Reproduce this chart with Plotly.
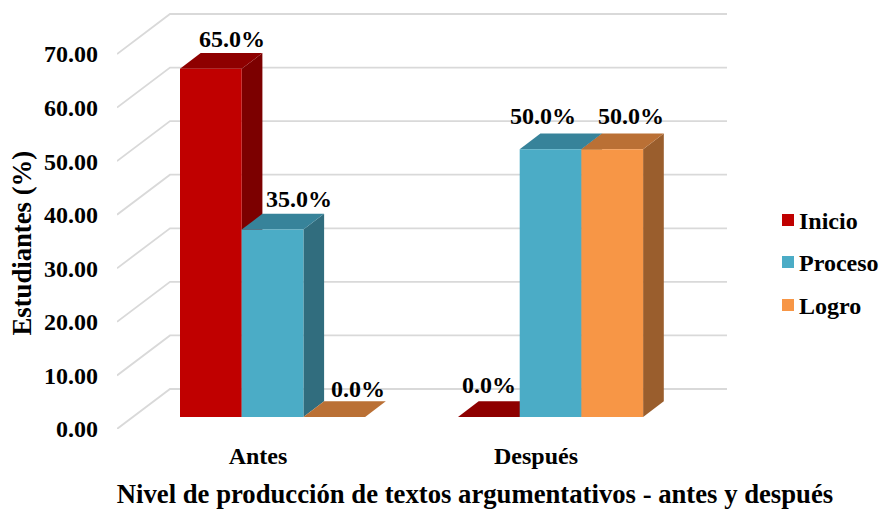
import plotly.graph_objects as go

categories = ["Antes", "Después"]
series_names = ["Inicio", "Proceso", "Logro"]
inicio = [65.0, 0.0]
proceso = [35.0, 50.0]
logro = [0.0, 50.0]
series_values = [inicio, proceso, logro]
y_ticks = [0, 10, 20, 30, 40, 50, 60, 70]

front_colors = ["#C00000", "#4BACC6", "#F79646"]
top_colors = ["#8E0000", "#37839A", "#BA7035"]
side_colors = ["#7C0000", "#316D7E", "#9A5E2D"]

FONT = "Liberation Serif"
PX_X = 278.0          # pixels per x unit
PX_Y = 5.357          # pixels per y unit
W, H = 880, 509
L, R, T, B = 117, 47, 10, 80   # plot area runs on under the legend so the x title centres at 475
CAT0_PX = 258
x_range = [-(CAT0_PX - L) / PX_X, (W - R - CAT0_PX) / PX_X]
y_range = [0, (H - T - B) / PX_Y]


def px_x(px):
    return (px - CAT0_PX) / PX_X


def px_y(py):
    return (H - B - py) / PX_Y


def paper_x(px):
    return (px - L) / (W - L - R)


def paper_y(py):
    return (H - B - py) / (H - T - B)


WALL_DX, WALL_DY = 53 / PX_X, 40 / PX_Y
WALL_END = px_x(727)
BAR_BASE = 12 / PX_Y
BAR_DX, BAR_DY = 20.7 / PX_X, 15.7 / PX_Y
BAR_W = 61.7 / PX_X
OFFSETS = [(180 - 258) / PX_X, (241.7 - 258) / PX_X, (303.4 - 258) / PX_X]
x_pos = list(range(len(categories)))

# per-label pixel nudges (dx, dy) from the centre of the bar's top-back edge
label_nudge = {
    (0, 0): (0, 14), (1, 0): (6, 15), (2, 0): (3, 12),
    (0, 1): (-21, 16), (1, 1): (-28, 17), (2, 1): (-2, 17),
}
legend_py = [220, 262, 305]

fig = go.Figure()

# wall gridlines
gx, gy = [], []
for t in y_ticks:
    gx += [x_range[0], x_range[0] + WALL_DX, WALL_END, None]
    gy += [t, t + WALL_DY, t + WALL_DY, None]
fig.add_trace(go.Scatter(x=gx, y=gy, mode="lines", line=dict(color="#D9D9D9", width=1.8),
                         showlegend=False, hoverinfo="skip", cliponaxis=False))

# top and side faces
for s, vals in enumerate(series_values):
    for c, v in zip(x_pos, vals):
        x0 = c + OFFSETS[s]
        x1 = x0 + BAR_W
        y0 = BAR_BASE
        y1 = BAR_BASE + v
        if v > 0:
            fig.add_trace(go.Scatter(
                x=[x1, x1 + BAR_DX, x1 + BAR_DX, x1, x1],
                y=[y0, y0 + BAR_DY, y1 + BAR_DY, y1, y0],
                mode="lines", fill="toself", fillcolor=side_colors[s],
                line=dict(width=0), showlegend=False, hoverinfo="skip"))
        fig.add_trace(go.Scatter(
            x=[x0, x1, x1 + BAR_DX, x0 + BAR_DX, x0],
            y=[y1, y1, y1 + BAR_DY, y1 + BAR_DY, y1],
            mode="lines", fill="toself", fillcolor=top_colors[s],
            line=dict(width=0), showlegend=False, hoverinfo="skip"))

# legend keys and names
for s, name in enumerate(series_names):
    fig.add_trace(go.Scatter(
        x=[px_x(788)], y=[px_y(legend_py[s])], mode="markers", name=name,
        marker=dict(symbol="square", size=12, color=front_colors[s], line=dict(width=0)),
        cliponaxis=False, showlegend=False, hoverinfo="skip"))
    fig.add_annotation(
        x=paper_x(797), y=paper_y(legend_py[s] + 1), xref="paper", yref="paper",
        text=name, showarrow=False, xanchor="left", yanchor="middle", align="left",
        font=dict(family=FONT, size=24, color="black", weight="bold"))

# front faces, on an overlaid subplot so they hide the faces behind them
for s, vals in enumerate(series_values):
    fig.add_trace(go.Bar(
        x=x_pos, y=vals, base=BAR_BASE, width=BAR_W, offset=OFFSETS[s],
        name=series_names[s], marker=dict(color=front_colors[s], line=dict(width=0)),
        xaxis="x2", yaxis="y2", showlegend=False))

# data labels
for s, vals in enumerate(series_values):
    for c, v in zip(x_pos, vals):
        dx, dy = label_nudge[(s, c)]
        fig.add_annotation(
            x=c + OFFSETS[s] + BAR_W / 2 + BAR_DX, y=BAR_BASE + v + BAR_DY,
            xref="x", yref="y", text=f"{v:.1f}%", showarrow=False,
            xshift=dx, yshift=dy, xanchor="center", yanchor="middle",
            font=dict(family=FONT, size=24, color="black", weight="bold"))

axis_font = dict(family=FONT, size=24, color="black", weight="bold")
title_font = dict(family=FONT, size=26.7, color="black", weight="bold")

# y axis title, centred on its reference position rather than on the plot area
fig.add_annotation(
    x=paper_x(22), y=paper_y(242.5),
    xref="paper", yref="paper", text="Estudiantes (%)", textangle=-90, showarrow=False,
    xanchor="center", yanchor="middle", font=title_font)

fig.update_layout(
    width=W, height=H, autosize=False,
    margin=dict(l=L, r=R, t=T, b=B, pad=0, autoexpand=False),
    paper_bgcolor="white", plot_bgcolor="white",
    barmode="overlay", font=axis_font, showlegend=False,
    xaxis=dict(range=x_range, tickmode="array", tickvals=x_pos, ticktext=categories,
               automargin=False, showgrid=False, zeroline=False, showline=False, ticks="",
               tickfont=axis_font, ticklabelstandoff=10,
               title=dict(text="Nivel de producción de textos argumentativos - antes y después",
                          font=title_font, standoff=18)),
    yaxis=dict(range=y_range, tickmode="array", tickvals=y_ticks, tickformat=".2f",
               automargin=False, showgrid=False, zeroline=False, showline=False, ticks="",
               tickfont=axis_font, ticklabelstandoff=18),
    xaxis2=dict(range=x_range, overlaying="x", visible=False),
    yaxis2=dict(range=y_range, overlaying="y", visible=False),
)

fig.write_html("out.html", config={"displayModeBar": False},
               post_script="document.body.style.margin='0';document.body.style.overflow='hidden';")
